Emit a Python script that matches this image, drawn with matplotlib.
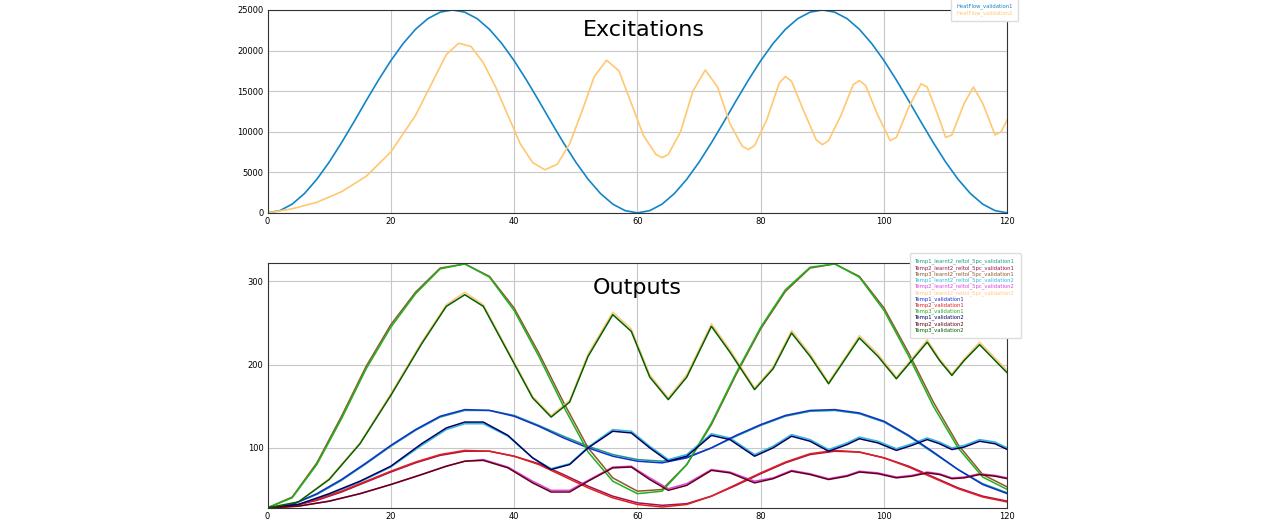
import matplotlib.pyplot as plt

# excitations
t_hf1 = list(range(0, 121, 2))
heatflow_v1 = [0, 275, 1075, 2387, 4138, 6250, 8637, 11187, 13813, 16363, 18750, 20862, 22613, 23925, 24725,
               25000, 24725, 23925, 22613, 20862, 18750, 16363, 13813, 11187, 8637, 6250, 4138, 2387, 1075, 275,
               0, 275, 1075, 2387, 4138, 6250, 8637, 11187, 13813, 16363, 18750, 20862, 22613, 23925, 24725,
               25000, 24725, 23925, 22613, 20862, 18750, 16363, 13813, 11187, 8637, 6250, 4138, 2387, 1075, 275, 0]
t_hf2 = [0, 4, 8, 12, 16, 20, 24, 27, 29, 31, 33, 35, 37, 39, 41, 43, 45, 47, 49, 51, 53, 55, 57, 59, 61, 63, 64,
         65, 67, 69, 71, 73, 75, 77, 78, 79, 81, 83, 84, 85, 87, 89, 90, 91, 93, 95, 96, 97, 99, 101, 102, 104,
         106, 107, 109, 110, 111, 113, 114.5, 116, 118, 119, 120]
heatflow_v2 = [0, 500, 1300, 2600, 4500, 7500, 12000, 16500, 19500, 20900, 20500, 18500, 15500, 12000, 8500, 6200,
               5300, 6000, 8500, 12500, 16800, 18800, 17500, 13500, 9500, 7200, 6800, 7200, 10000, 15000, 17600,
               15500, 11000, 8200, 7800, 8300, 11500, 16000, 16800, 16200, 12500, 9000, 8400, 8900, 12000, 15800,
               16300, 15700, 12000, 8900, 9300, 13000, 15900, 15500, 11500, 9300, 9600, 13500, 15500, 13500, 9600,
               10000, 11500]

# outputs, validation1 (smooth)
t_v1 = list(range(0, 121, 4))
temp1_v1 = [28, 32, 45, 62, 82, 103, 122, 138, 146, 145, 138, 126, 112, 100, 90, 84, 82, 88, 100, 115, 128, 139,
            145, 146, 142, 132, 115, 95, 74, 56, 45]
temp2_v1 = [28, 30, 38, 48, 60, 72, 83, 92, 97, 96, 90, 80, 66, 52, 40, 32, 29, 32, 42, 56, 70, 83, 93, 97, 95,
            88, 77, 64, 51, 41, 35]
temp3_v1 = [28, 40, 80, 135, 195, 245, 285, 315, 321, 305, 265, 210, 150, 95, 60, 45, 48, 80, 130, 190, 245, 290,
            317, 321, 305, 265, 210, 150, 100, 65, 50]
temp1_learnt_v1 = [28, 32, 44, 61, 81, 102, 121, 137, 145, 145, 139, 127, 114, 102, 92, 86, 84, 89, 100, 114, 127,
                   138, 144, 145, 141, 131, 114, 94, 74, 57, 46]
temp2_learnt_v1 = [28, 30, 37, 47, 59, 71, 82, 91, 96, 96, 90, 81, 68, 54, 42, 34, 31, 33, 42, 55, 69, 82, 92,
                   96, 95, 88, 78, 65, 52, 42, 36]
temp3_learnt_v1 = [28, 41, 82, 138, 198, 248, 287, 316, 321, 306, 268, 214, 155, 100, 64, 48, 50, 80, 128, 188,
                   243, 288, 316, 321, 306, 268, 214, 155, 104, 68, 53]

# outputs, validation2 (oscillating)
t_v2 = [0, 5, 10, 15, 20, 25, 29, 32, 35, 39, 43, 46, 49, 52, 56, 59, 62, 65, 68, 72, 75, 79, 82, 85, 88, 91, 94,
        96, 99, 102, 104.5, 107, 109, 111, 113, 115.5, 118, 120]
temp1_v2 = [28, 32, 45, 60, 78, 105, 124, 131, 131, 115, 88, 74, 80, 100, 120, 118, 100, 84, 90, 115, 110, 90, 100,
            114, 108, 96, 104, 111, 106, 97, 103, 110, 105, 98, 101, 108, 105, 98]
temp2_v2 = [28, 30, 36, 45, 56, 68, 78, 84, 85, 76, 58, 47, 47, 60, 76, 77, 62, 49, 55, 73, 70, 58, 63, 72, 68, 62,
            66, 71, 69, 64, 66, 70, 68, 63, 64, 68, 66, 63]
temp3_v2 = [28, 35, 62, 105, 163, 225, 270, 284, 270, 215, 160, 137, 155, 210, 260, 240, 185, 158, 185, 246, 215,
            170, 195, 238, 210, 177, 210, 232, 210, 183, 205, 227, 205, 187, 205, 224, 205, 190]
temp1_learnt_v2 = [28, 32, 44, 59, 77, 103, 122, 129, 129, 114, 88, 75, 81, 101, 122, 120, 102, 86, 92, 117, 112,
                   92, 102, 116, 110, 98, 106, 113, 108, 99, 105, 112, 107, 100, 103, 110, 107, 100]
temp2_learnt_v2 = [28, 30, 36, 45, 56, 68, 78, 84, 86, 77, 60, 49, 49, 61, 77, 78, 64, 51, 57, 74, 71, 60, 64,
                   73, 69, 63, 67, 72, 70, 65, 67, 71, 69, 64, 65, 69, 67, 64]
temp3_learnt_v2 = [28, 35, 63, 106, 165, 227, 272, 287, 272, 217, 162, 139, 157, 213, 263, 243, 188, 160, 188,
                   249, 218, 172, 197, 241, 213, 179, 212, 235, 213, 185, 207, 230, 207, 189, 207, 227, 208, 193]

fig = plt.figure(figsize=(12.8, 5.23), dpi=100)
ax1 = fig.add_axes([0.209, 0.593, 0.578, 0.388])
ax2 = fig.add_axes([0.209, 0.029, 0.578, 0.468])

ax1.plot(t_hf1, heatflow_v1, color='#1185c8', lw=1.2, label='HeatFlow_validation1')
ax1.plot(t_hf2, heatflow_v2, color='#ffc870', lw=1.2, label='HeatFlow_validation2')
ax1.set_xlim(0, 120)
ax1.set_ylim(0, 25000)
ax1.set_yticks(range(0, 25001, 5000))
ax1.text(61, 22500, 'Excitations', fontsize=16, ha='center', va='center')

series = [
    (t_v1, temp1_learnt_v1, '#1a9a8a', 'Temp1_learnt2_reltol_5pc_validation1'),
    (t_v1, temp2_learnt_v1, '#a01050', 'Temp2_learnt2_reltol_5pc_validation1'),
    (t_v1, temp3_learnt_v1, '#8b5a2b', 'Temp3_learnt2_reltol_5pc_validation1'),
    (t_v2, temp1_learnt_v2, '#30b8e0', 'Temp1_learnt2_reltol_5pc_validation2'),
    (t_v2, temp2_learnt_v2, '#e040e0', 'Temp2_learnt2_reltol_5pc_validation2'),
    (t_v2, temp3_learnt_v2, '#ffc880', 'Temp3_learnt2_reltol_5pc_validation2'),
    (t_v1, temp1_v1, '#1030d0', 'Temp1_validation1'),
    (t_v1, temp2_v1, '#e02020', 'Temp2_validation1'),
    (t_v1, temp3_v1, '#20b020', 'Temp3_validation1'),
    (t_v2, temp1_v2, '#000060', 'Temp1_validation2'),
    (t_v2, temp2_v2, '#600010', 'Temp2_validation2'),
    (t_v2, temp3_v2, '#006000', 'Temp3_validation2'),
]
for t, v, c, name in series:
    ax2.plot(t, v, color=c, lw=1.1, label=name)
ax2.set_xlim(0, 120)
ax2.set_ylim(28, 322)
ax2.set_yticks([100, 200, 300])
ax2.text(60, 292, 'Outputs', fontsize=16, ha='center', va='center')

for ax in (ax1, ax2):
    ax.set_xticks(range(0, 121, 20))
    ax.grid(True, color='#c8c8c8', lw=0.8)
    ax.tick_params(labelsize=6, length=0, pad=3)
    for s in ax.spines.values():
        s.set_color('#333333')
        s.set_linewidth(0.8)

leg1 = ax1.legend(loc='upper left', bbox_to_anchor=(0.92, 1.07), fontsize=3.8, handlelength=0, handletextpad=0,
                  labelspacing=0.1, borderpad=1.0, framealpha=1, edgecolor='#dddddd')
leg2 = ax2.legend(loc='upper left', bbox_to_anchor=(0.865, 1.05), fontsize=3.8, handlelength=0, handletextpad=0,
                  labelspacing=0.1, borderpad=1.0, framealpha=1, edgecolor='#dddddd')
for leg in (leg1, leg2):
    for line, text in zip(leg.get_lines(), leg.get_texts()):
        text.set_color(line.get_color())
        line.set_visible(False)

fig.savefig('out.png', dpi=100)
